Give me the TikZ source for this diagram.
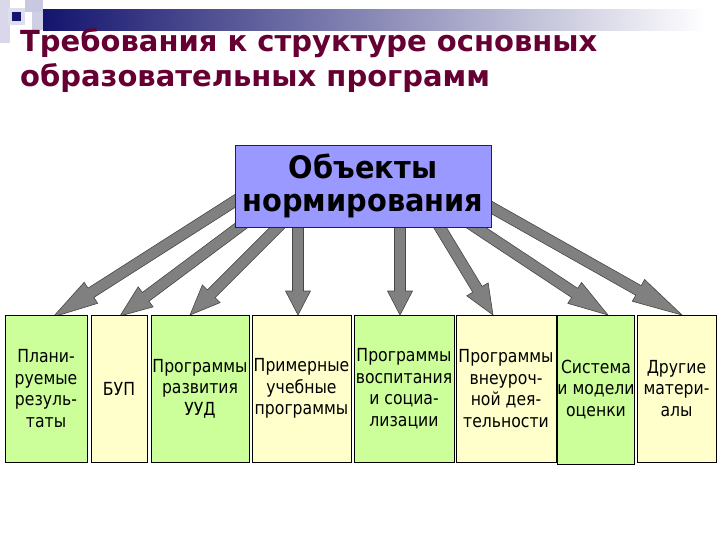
\documentclass[tikz,border=0pt]{standalone}
\usepackage{fontspec}
\setmainfont{Liberation Sans}
\newfontfamily\titlefont{DejaVu Sans}
\newfontfamily\objfont{DejaVu Sans}[FakeStretch=0.93]
\newfontfamily\boxfont{DejaVu Sans}[FakeStretch=0.87]
\usetikzlibrary{calc}
\definecolor{titlecol}{RGB}{102,0,51}
\definecolor{objfill}{RGB}{153,153,255}
\definecolor{grn}{RGB}{204,255,153}
\definecolor{ylw}{RGB}{255,255,204}
\definecolor{arrfill}{RGB}{128,128,128}
\definecolor{arrline}{RGB}{70,70,70}
\definecolor{navy}{RGB}{20,20,110}
\definecolor{lav}{RGB}{200,200,225}
\newcommand\blockarrow[3]{%
  \coordinate (hh) at ($(#2)!#3!(#1)$);
  \filldraw[arrow body]
    ($(#1)!5.5pt!90:(#2)$) -- ($(hh)!5.5pt!90:(#2)$) -- ($(hh)!12.5pt!90:(#2)$) --
    (#2) -- ($(hh)!12.5pt!-90:(#2)$) -- ($(hh)!5.5pt!-90:(#2)$) --
    ($(#1)!5.5pt!-90:(#2)$) -- cycle;}
\tikzset{
  arrow body/.style={fill=arrfill, draw=arrline, line width=0.6pt, line join=miter},
  objbox/.style={draw=black!85, line width=0.8pt, fill=objfill, minimum width=256pt,
    minimum height=82pt, inner sep=0pt, align=center,
    font=\objfont\bfseries\fontsize{31}{33}\selectfont},
  itembox/.style={draw=black, line width=0.7pt, minimum height=147pt, inner sep=0pt,
    align=center, font=\boxfont\fontsize{18}{21.5}\selectfont},
  titletext/.style={anchor=base west, inner sep=0pt, text=titlecol,
    font=\titlefont\bfseries\fontsize{29}{32}\selectfont},
}
\begin{document}
\begin{tikzpicture}[x=1pt,y=-1pt]
\useasboundingbox (0,0) rectangle (720,540);
% header decoration
\fill[lav!70] (0,0) rectangle (10,43);
\fill[lav] (25,0) rectangle (43,12);
\fill[lav!90] (32,12) rectangle (53,30);
\shade[left color=navy, right color=white] (43,10) rectangle (705,31);
\fill[lav!60] (8,8) rectangle (25,25);
\fill[navy] (12,12) rectangle (21,21);
% title
\node[titletext] (t1) at (20,52) {Требования к структуре основных};
\node[titletext] (t2) at (20,87) {образовательных программ};
% arrow end points
\coordinate (a1) at (249,192); \coordinate (p1) at (53,317);
\coordinate (a2) at (254,216); \coordinate (p2) at (120,316);
\coordinate (a3) at (291,214); \coordinate (p3) at (190,315);
\coordinate (a4) at (298,212); \coordinate (p4) at (298,315);
\coordinate (a5) at (400,212); \coordinate (p5) at (400,315);
\coordinate (a6) at (430,211); \coordinate (p6) at (493,315);
\coordinate (a7) at (460,217); \coordinate (p7) at (608,315);
\coordinate (a8) at (473,197); \coordinate (p8) at (682,315);
\blockarrow{a1}{p1}{45pt}
\blockarrow{a2}{p2}{32pt}
\blockarrow{a3}{p3}{30pt}
\blockarrow{a4}{p4}{24pt}
\blockarrow{a5}{p5}{24pt}
\blockarrow{a6}{p6}{30pt}
\blockarrow{a7}{p7}{40pt}
\blockarrow{a8}{p8}{50pt}
% main box
\node[objbox] (obj) at (363,186) {Объекты\\нормирования};
% item boxes
\node[itembox, fill=grn, minimum width=82pt] (b1) at (46,388.5) {Плани-\\руемые\\резуль-\\таты};
\node[itembox, fill=ylw, minimum width=56pt] (b2) at (119,388.5) {БУП};
\node[itembox, fill=grn, minimum width=98pt] (b3) at (200,388.5) {Программы\\развития\\УУД};
\node[itembox, fill=ylw, minimum width=99pt] (b4) at (301.5,388.5) {Примерные\\учебные\\программы};
\node[itembox, fill=grn, minimum width=100pt] (b5) at (404,388.5) {Программы\\воспитания\\и социа-\\лизации};
\node[itembox, fill=ylw, minimum width=100pt] (b6) at (506,388.5) {Программы\\внеуроч-\\ной дея-\\тельности};
\node[itembox, fill=grn, minimum width=76pt, minimum height=149pt] (b7) at (596,389.5) {Система\\и модели\\оценки};
\node[itembox, fill=ylw, minimum width=79pt] (b8) at (676.5,388.5) {Другие\\матери-\\алы};
\end{tikzpicture}
\end{document}
